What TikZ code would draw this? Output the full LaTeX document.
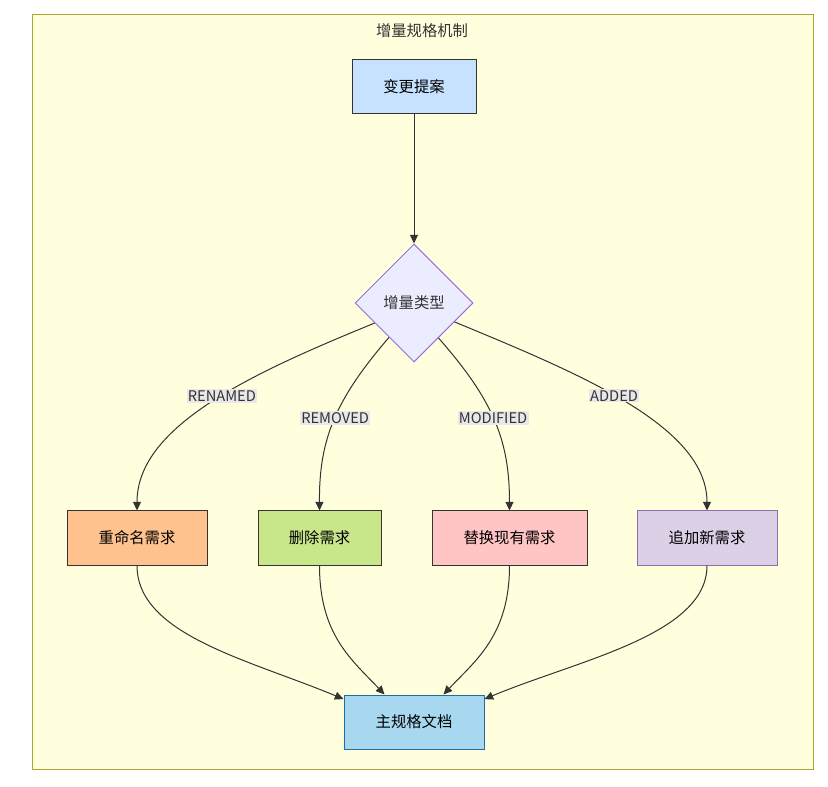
\documentclass[tikz,border=0pt]{standalone}
\usepackage{fontspec}
\setmainfont{Noto Sans CJK SC}
\usetikzlibrary{shapes.geometric,arrows.meta}
\definecolor{framefill}{HTML}{FFFFDE}
\definecolor{framedraw}{HTML}{AAAA33}
\definecolor{ink}{HTML}{333333}
\definecolor{cprop}{HTML}{C6E2FF}
\definecolor{cdia}{HTML}{ECECFF}
\definecolor{cdiad}{HTML}{9370DB}
\definecolor{cren}{HTML}{FFC28F}
\definecolor{crem}{HTML}{C8E68A}
\definecolor{cmod}{HTML}{FFC4C4}
\definecolor{cadd}{HTML}{DCD0E6}
\definecolor{caddd}{HTML}{8E6FA8}
\definecolor{cmain}{HTML}{A8D8EF}
\definecolor{cmaind}{HTML}{1F6E9C}
\definecolor{lblbg}{HTML}{E8E8E8}
\begin{document}
\begin{tikzpicture}[x=0.75pt,y=-0.75pt,
  box/.style={rectangle,draw=ink,line width=0.75pt,minimum height=40.5pt,inner sep=0pt,font=\fontsize{11.5}{13}\selectfont,text=black},
  conn/.style={draw=ink,line width=0.75pt,-{Triangle[length=6.5pt,width=6pt]}},
  lbl/.style={fill=lblbg,inner sep=1pt,font=\fontsize{11}{12}\selectfont,text=ink}]
\useasboundingbox (0,0) rectangle (828,787);
\draw[fill=framefill,draw=framedraw,line width=0.75pt] (32,15) rectangle (813,769);
\node[font=\fontsize{11.5}{13}\selectfont,text=ink] (title) at (422,31) {增量规格机制};
\node[box,fill=cprop,minimum width=93pt] (prop) at (414,87) {变更提案};
\node[diamond,draw=cdiad,fill=cdia,line width=0.75pt,minimum width=88.5pt,minimum height=88.5pt,inner sep=0pt,font=\fontsize{11.5}{13}\selectfont,text=ink] (type) at (414,303) {增量类型};
\node[box,fill=cren,minimum width=105pt] (ren) at (137,538) {重命名需求};
\node[box,fill=crem,minimum width=92.25pt] (rem) at (319.5,538) {删除需求};
\node[box,fill=cmod,minimum width=116.25pt] (mod) at (509.5,538) {替换现有需求};
\node[box,fill=cadd,draw=caddd,minimum width=105pt] (add) at (707,538) {追加新需求};
\node[box,fill=cmain,draw=cmaind,minimum width=105pt] (main) at (414,722) {主规格文档};
\draw[conn] (prop) -- (type);
\draw[conn] (type.207) .. controls (255,372) and (137,425) .. node[lbl,pos=0.46] {RENAMED} (ren.north);
\draw[conn] (type.234.5) .. controls (335,400) and (319,440) .. node[lbl,pos=0.48] {REMOVED} (rem.north);
\draw[conn] (type.305.5) .. controls (493,400) and (509.5,440) .. node[lbl,pos=0.48] {MODIFIED} (mod.north);
\draw[conn] (type.335) .. controls (575,372) and (707,425) .. node[lbl,pos=0.46] {ADDED} (add.north);
\draw[conn] (ren.south) .. controls (137,635) and (250,660) .. (main.162);
\draw[conn] (rem.south) .. controls (319.5,635) and (352,660) .. (main.137);
\draw[conn] (mod.south) .. controls (509.5,635) and (476,660) .. (main.43);
\draw[conn] (add.south) .. controls (707,635) and (578,660) .. (main.18);
\end{tikzpicture}
\end{document}
